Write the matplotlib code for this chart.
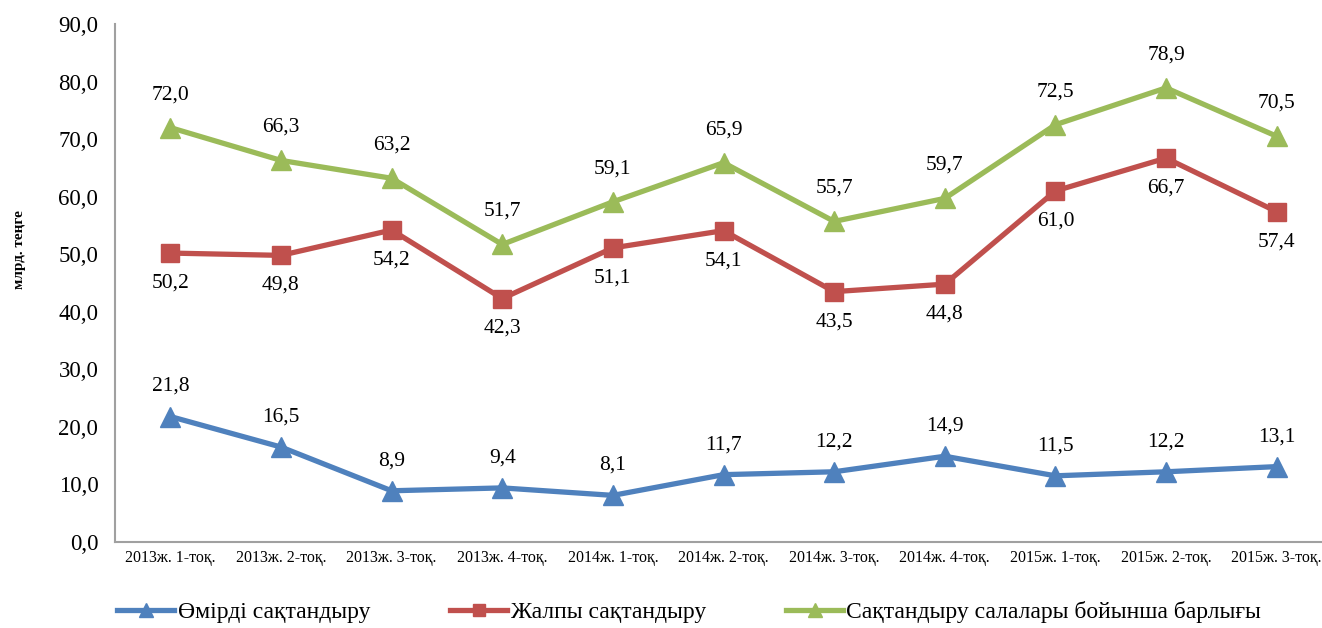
import matplotlib
matplotlib.use("Agg")
import matplotlib.pyplot as plt
from matplotlib.ticker import FuncFormatter

# Деректер (млрд. теңге)
categories = ["2013ж. 1-тоқ.", "2013ж. 2-тоқ.", "2013ж. 3-тоқ.", "2013ж. 4-тоқ.",
              "2014ж. 1-тоқ.", "2014ж. 2-тоқ.", "2014ж. 3-тоқ.", "2014ж. 4-тоқ.",
              "2015ж. 1-тоқ.", "2015ж. 2-тоқ.", "2015ж. 3-тоқ."]
life = [21.8, 16.5, 8.9, 9.4, 8.1, 11.7, 12.2, 14.9, 11.5, 12.2, 13.1]
general = [50.2, 49.8, 54.2, 42.3, 51.1, 54.1, 43.5, 44.8, 61.0, 66.7, 57.4]
total = [72.0, 66.3, 63.2, 51.7, 59.1, 65.9, 55.7, 59.7, 72.5, 78.9, 70.5]

names = ["Өмірді сақтандыру", "Жалпы сақтандыру",
         "Сақтандыру салалары бойынша барлығы"]

plt.rcParams['font.family'] = ['Liberation Serif', 'DejaVu Serif']

W, H = 1322, 628
fig = plt.figure(figsize=(W / 100, H / 100), dpi=100)
# сурет оң жағынан кесілген сияқты, сондықтан ось шекарадан шығады
ax = fig.add_axes([115 / W, (H - 542) / H, (1332 - 115) / W, (542 - 24) / H])

x = list(range(len(categories)))
series = [
    (life, "#4F81BD", "^", 15, 30),
    (general, "#C0504D", "s", 13, -30),
    (total, "#9BBB59", "^", 15, 33),
]
lines = []
for (vals, color, mk, ms, off), name in zip(series, names):
    ln, = ax.plot(x, vals, color=color, lw=3.8, marker=mk, markersize=ms,
                  label=name, zorder=3)
    lines.append(ln)
    for xi, v in zip(x, vals):
        ax.annotate(f"{v:.1f}".replace(".", ","), (xi, v),
                    xytext=(0, off * 0.72), textcoords="offset points",
                    ha="center", va="center", fontsize=15.5)

ax.set_xlim(-0.5, len(categories) - 0.5)
ax.set_ylim(0, 90)
ax.set_yticks(range(0, 91, 10))
ax.yaxis.set_major_formatter(FuncFormatter(lambda v, p: f"{v:.1f}".replace(".", ",")))
ax.set_xticks(x)
ax.set_xticklabels(categories, fontsize=11.5)
ax.tick_params(axis="y", labelsize=16.5, length=0, pad=12)
ax.tick_params(axis="x", length=0, pad=6)

for s in ["top", "right"]:
    ax.spines[s].set_visible(False)
for s in ["left", "bottom"]:
    ax.spines[s].set_color("#A0A0A0")
    ax.spines[s].set_linewidth(1.5)

fig.text(20 / W, 1 - 250 / H, "млрд. теңге", rotation=90, ha="center",
         va="center", fontsize=11, fontweight="bold")

fig.legend(handles=lines, loc="center left", bbox_to_anchor=(108 / W, 1 - 612 / H),
           ncol=3, frameon=False, fontsize=17, handlelength=2.4,
           handletextpad=0.15, columnspacing=3.4, markerscale=0.7,
           borderaxespad=0)

fig.savefig("out.png", dpi=100)
